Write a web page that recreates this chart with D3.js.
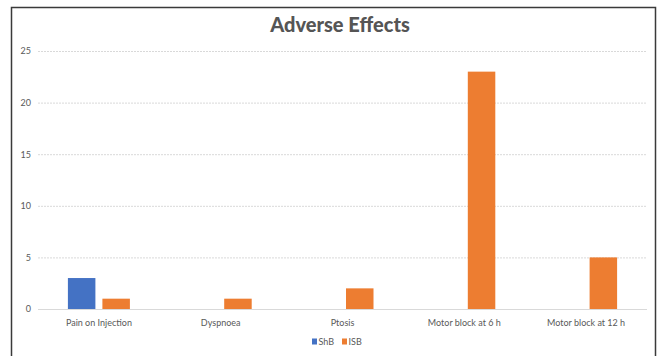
<!DOCTYPE html>
<html>
<head>
<meta charset="utf-8">
<script src="https://cdn.jsdelivr.net/npm/d3@7"></script>
<style>
  html, body { margin: 0; padding: 0; background: #fff; }
  svg { display: block; }
</style>
</head>
<body>
<svg id="chart" width="657" height="356"></svg>
<script>
// Adverse effects counts per block technique
const categories = ["Pain on Injection", "Dyspnoea", "Ptosis", "Motor block at 6 h", "Motor block at 12 h"];
const seriesNames = ["ShB", "ISB"];
const shbValues = [3, 0, 0, 0, 0];
const isbValues = [1, 1, 2, 23, 5];
const yTicks = [0, 5, 10, 15, 20, 25];
const colors = ["#4472C4", "#ED7D31"];

const svg = d3.select("#chart");
const W = 657, H = 356;
const font = "Lato, 'Open Sans', sans-serif";

// outer frame
svg.append("path")
  .attr("d", `M11.5,${H + 2} V7.5 H655.5 V${H + 2}`)
  .attr("fill", "none")
  .attr("stroke", "#3a3a3a")
  .attr("stroke-width", 1.5);

const plot = { left: 38, right: 647, top: 51, bottom: 309 };

const x0 = d3.scaleBand().domain(categories).range([plot.left, plot.right]).paddingInner(0).paddingOuter(0);
const y = d3.scaleLinear().domain([0, 25]).range([plot.bottom, plot.top]);

// gridlines
svg.append("g").selectAll("line").data(yTicks).join("line")
  .attr("x1", plot.left).attr("x2", plot.right)
  .attr("y1", d => y(d) + 0.5).attr("y2", d => y(d) + 0.5)
  .attr("stroke", "#d9d9d9")
  .attr("stroke-width", 1)
  .attr("stroke-dasharray", d => d === 0 ? null : "2,1");

// y axis labels
const yAxis = d3.axisLeft(y).tickValues(yTicks).tickSize(0).tickPadding(7);
svg.append("g").attr("transform", `translate(${plot.left},0)`).call(yAxis)
  .call(g => g.select(".domain").remove())
  .call(g => g.selectAll("text").attr("fill", "#595959").attr("font-size", 9).attr("font-family", font));

// bars
const barW = 27.5, gap = 7;
const data = categories.map((c, i) => ({ c, vals: [shbValues[i], isbValues[i]] }));
const groups = svg.append("g").selectAll("g").data(data).join("g")
  .attr("transform", d => `translate(${x0(d.c) + x0.bandwidth() / 2},0)`);
groups.selectAll("rect").data(d => d.vals.map((v, k) => ({ v, k }))).join("rect")
  .attr("x", d => d.k === 0 ? -(barW + gap / 2) : gap / 2)
  .attr("width", barW)
  .attr("y", d => y(d.v))
  .attr("height", d => y(0) - y(d.v))
  .attr("fill", d => colors[d.k]);

// x axis labels
const xAxis = d3.axisBottom(x0).tickSize(0).tickPadding(11);
svg.append("g").attr("transform", `translate(0,${plot.bottom})`).call(xAxis)
  .call(g => g.select(".domain").remove())
  .call(g => g.selectAll("text").attr("fill", "#595959").attr("font-size", 9).attr("font-family", font));

// title
svg.append("text")
  .attr("x", 340).attr("y", 32)
  .attr("text-anchor", "middle")
  .attr("font-family", font)
  .attr("font-weight", 900)
  .attr("font-size", 20)
  .attr("fill", "#555555")
  .text("Adverse Effects");

// legend
const legend = svg.append("g").attr("transform", "translate(312,343)");
const legX = [0, 30];
seriesNames.forEach((name, i) => {
  legend.append("rect").attr("x", legX[i]).attr("y", -4.5).attr("width", 5).attr("height", 6).attr("fill", colors[i]);
  legend.append("text").attr("x", legX[i] + 6.5).attr("y", 2)
    .attr("font-family", font).attr("font-size", 9).attr("fill", "#595959").text(name);
});
</script>
</body>
</html>
